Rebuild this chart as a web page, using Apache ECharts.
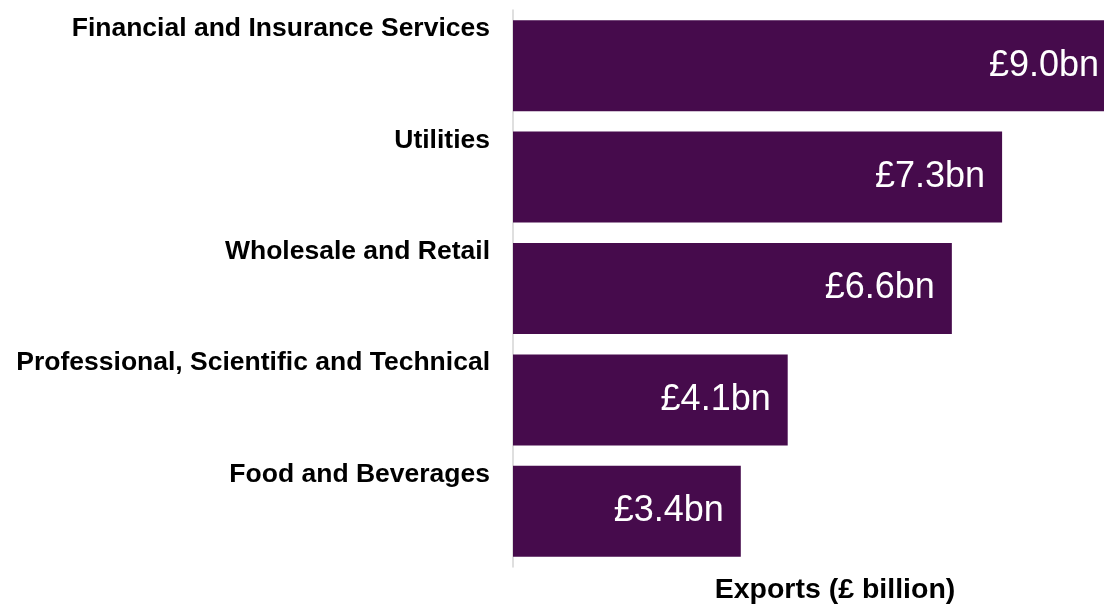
<!DOCTYPE html>
<html>
<head>
<meta charset="utf-8">
<script src="https://cdn.jsdelivr.net/npm/echarts@6/dist/echarts.min.js"></script>
<style>html,body{margin:0;padding:0;background:#fff;}#c{width:1104px;height:610px;}</style>
</head>
<body>
<div id="c"></div>
<script>
const categories = ['Financial and Insurance Services', 'Utilities', 'Wholesale and Retail', 'Professional, Scientific and Technical', 'Food and Beverages'];
const values = [9.0, 7.3, 6.55, 4.1, 3.4];
const valueLabels = ['£9.0bn', '£7.3bn', '£6.6bn', '£4.1bn', '£3.4bn'];
const axisTitle = 'Exports (£ billion)';

const chart = echarts.init(document.getElementById('c'), null, {renderer: 'canvas'});
chart.setOption({
  animation: false,
  grid: {left: 513, right: -12, top: 10, height: 557, containLabel: false, outerBoundsMode: 'none'},
  xAxis: {
    type: 'value', min: 0, max: 9.0,
    axisLine: {show: false}, axisTick: {show: false}, axisLabel: {show: false}, splitLine: {show: false}
  },
  yAxis: {
    type: 'category', data: categories, inverse: true,
    axisLine: {show: true, lineStyle: {color: '#d4d4d4', width: 1.5}},
    axisTick: {show: false},
    axisLabel: {
      margin: 23,
      fontFamily: 'Liberation Sans, Arial, sans-serif',
      fontWeight: 'bold', fontSize: 26.5, color: '#000',
      lineHeight: 24.5,
      verticalAlign: 'middle',
      formatter: v => v + '\n\n\n'
    }
  },
  graphic: [{
    type: 'text',
    style: {
      text: axisTitle, x: 835, y: 590,
      fontFamily: 'Liberation Sans, Arial, sans-serif', fontWeight: 'bold', fontSize: 28.5, fill: '#000',
      align: 'center', verticalAlign: 'middle'
    }
  }],
  series: [{
    type: 'bar', data: values, barWidth: 91,
    itemStyle: {color: '#460b4c'},
    label: {
      show: true, position: 'insideRight', distance: 17,
      formatter: p => valueLabels[p.dataIndex],
      color: '#fff', fontSize: 36,
      fontFamily: 'Liberation Sans, Arial, sans-serif'
    }
  }]
});
</script>
</body>
</html>
